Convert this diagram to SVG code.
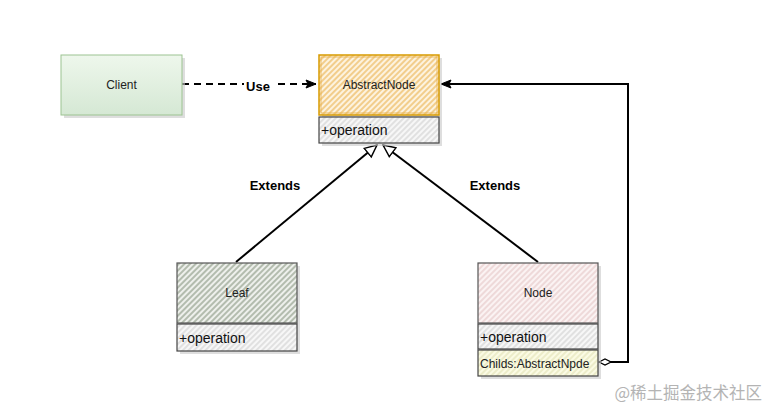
<svg xmlns="http://www.w3.org/2000/svg" width="774" height="415" viewBox="0 0 774 415">
<defs>
<linearGradient id="gGreen" x1="0" y1="0" x2="0" y2="1">
<stop offset="0" stop-color="#eef7ec"/>
<stop offset="1" stop-color="#d5e8d4"/>
</linearGradient>
<pattern id="hOrange" width="4" height="4" patternUnits="userSpaceOnUse" patternTransform="rotate(45)">
<rect width="4" height="4" fill="#fdf3df"/>
<line x1="1" y1="0" x2="1" y2="4" stroke="#ebb554" stroke-width="1.2"/>
</pattern>
<pattern id="hLeaf" width="4" height="4" patternUnits="userSpaceOnUse" patternTransform="rotate(45)">
<rect width="4" height="4" fill="#eef0ec"/>
<line x1="1" y1="0" x2="1" y2="4" stroke="#93a08d" stroke-width="1.3"/>
</pattern>
<pattern id="hNode" width="4" height="4" patternUnits="userSpaceOnUse" patternTransform="rotate(45)">
<rect width="4" height="4" fill="#fbf3f3"/>
<line x1="1" y1="0" x2="1" y2="4" stroke="#e6c8c8" stroke-width="1.2"/>
</pattern>
<pattern id="hGray" width="4" height="4" patternUnits="userSpaceOnUse" patternTransform="rotate(45)">
<rect width="4" height="4" fill="#f7f7f7"/>
<line x1="1" y1="0" x2="1" y2="4" stroke="#d2d2d2" stroke-width="1.2"/>
</pattern>
<pattern id="hYellow" width="4" height="4" patternUnits="userSpaceOnUse" patternTransform="rotate(45)">
<rect width="4" height="4" fill="#fbfbe4"/>
<line x1="1" y1="0" x2="1" y2="4" stroke="#e2e2b8" stroke-width="1.2"/>
</pattern>
<marker id="triOpen" viewBox="0 0 14 14" refX="13" refY="7" markerWidth="14" markerHeight="14" markerUnits="userSpaceOnUse" orient="auto">
<path d="M1,1.5 L13,7 L1,12.5 Z" fill="#ffffff" stroke="#000" stroke-width="1.4"/>
</marker>
<marker id="arrFill" viewBox="0 0 12 10" refX="11" refY="5" markerWidth="12" markerHeight="10" markerUnits="userSpaceOnUse" orient="auto">
<path d="M1,1 L11,5 L1,9 L3,5 Z" fill="#000" stroke="#000" stroke-width="1"/>
</marker>
<marker id="diamond" viewBox="0 0 14 8" refX="1" refY="4" markerWidth="14" markerHeight="8" markerUnits="userSpaceOnUse" orient="auto">
<path d="M1,4 L7,1 L13,4 L7,7 Z" fill="#ffffff" stroke="#000" stroke-width="1.2"/>
</marker>
</defs>
<style>
.lbl{font-family:"Liberation Sans",Arial,sans-serif;font-size:12px;fill:#222;}
.attr{font-family:"Liberation Sans",Arial,sans-serif;font-size:14px;fill:#111;}
.bold{font-family:"Liberation Sans",Arial,sans-serif;font-size:13px;font-weight:bold;fill:#000;}
.shadow{fill:#c8c8c8;opacity:0.6;}
.edge{fill:none;stroke:#000;stroke-width:2;}
</style>
<rect width="774" height="415" fill="#ffffff"/>

<g id="connectors">
<path class="edge" d="M182,84 L316,84" stroke-dasharray="7,5" marker-end="url(#arrFill)"/>
<path class="edge" d="M236,262 L377,145" marker-end="url(#triOpen)"/>
<path class="edge" d="M538,262 L383,145" marker-end="url(#triOpen)"/>
<path class="edge" d="M599,362 L628,362 L628,84 L441,84" marker-start="url(#diamond)" marker-end="url(#arrFill)"/>
<rect x="244" y="78" width="30" height="16" fill="#ffffff"/>
<text class="bold" x="258" y="91" text-anchor="middle">Use</text>
<text class="bold" x="275" y="190" text-anchor="middle">Extends</text>
<text class="bold" x="495" y="190" text-anchor="middle">Extends</text>
</g>

<g id="client">
<rect class="shadow" x="64" y="58" width="121" height="60"/>
<rect x="61" y="55" width="121" height="60" fill="url(#gGreen)" stroke="#9cc391" stroke-width="1"/>
<text class="lbl" x="121.5" y="89" text-anchor="middle">Client</text>
</g>

<g id="abstractnode">
<rect class="shadow" x="322" y="58" width="120" height="88"/>
<rect x="319" y="55" width="120" height="60" fill="url(#hOrange)" stroke="#d79b00" stroke-width="1.5"/>
<rect x="321" y="57" width="116" height="56" fill="none" stroke="#e6b04a" stroke-width="0.8"/>
<text class="lbl" x="379" y="89" text-anchor="middle">AbstractNode</text>
<rect x="319" y="117" width="120" height="26" fill="url(#hGray)" stroke="#444" stroke-width="1.2"/>
<text class="attr" x="321" y="135">+operation</text>
</g>

<g id="leaf">
<rect class="shadow" x="180" y="266" width="120" height="88"/>
<rect x="177" y="263" width="120" height="60" fill="url(#hLeaf)" stroke="#555" stroke-width="1.2"/>
<text class="lbl" x="237" y="297" text-anchor="middle">Leaf</text>
<rect x="177" y="324" width="120" height="27" fill="url(#hGray)" stroke="#444" stroke-width="1.2"/>
<text class="attr" x="179" y="343">+operation</text>
</g>

<g id="node">
<rect class="shadow" x="481" y="266" width="120" height="113"/>
<rect x="478" y="263" width="120" height="60" fill="url(#hNode)" stroke="#555" stroke-width="1.2"/>
<text class="lbl" x="538" y="297" text-anchor="middle">Node</text>
<rect x="478" y="324" width="120" height="25" fill="url(#hGray)" stroke="#444" stroke-width="1.2"/>
<text class="attr" x="480" y="342">+operation</text>
<rect x="478" y="350" width="120" height="26" fill="url(#hYellow)" stroke="#444" stroke-width="1.2"/>
<text class="lbl" x="480" y="368">Childs:AbstractNpde</text>
</g>

<text x="762" y="399" text-anchor="end" font-family="'Noto Sans CJK SC',sans-serif" font-size="16.5" fill="#b4b4b4">@稀土掘金技术社区</text>
</svg>
